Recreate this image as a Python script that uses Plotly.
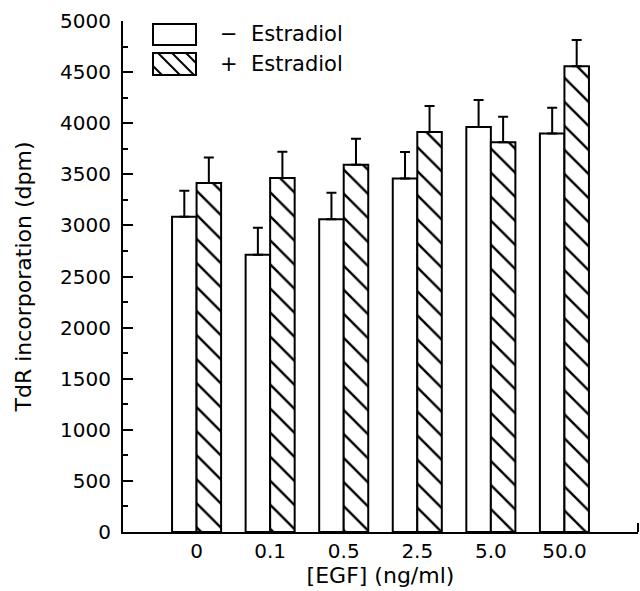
import plotly.graph_objects as go

categories = ["0", "0.1", "0.5", "2.5", "5.0", "50.0"]
minus_estradiol = [3085, 2713, 3060, 3460, 3963, 3898]
minus_err = [255, 265, 260, 258, 264, 254]
plus_estradiol = [3415, 3464, 3594, 3914, 3813, 4557]
plus_err = [250, 257, 255, 254, 251, 257]
y_ticks = [0, 500, 1000, 1500, 2000, 2500, 3000, 3500, 4000, 4500, 5000]

FONT = "DejaVu Sans"

fig = go.Figure()
fig.add_trace(go.Bar(
    x=categories, y=minus_estradiol, name="- Estradiol",
    marker=dict(color="white", line=dict(color="black", width=2)),
    error_y=dict(type="data", symmetric=False, array=minus_err,
                 arrayminus=[0] * len(minus_err), color="black",
                 thickness=2, width=5),
))
fig.add_trace(go.Bar(
    x=categories, y=plus_estradiol, name="+ Estradiol",
    marker=dict(color="white", line=dict(color="black", width=2),
                pattern=dict(shape="\\", fgcolor="black", bgcolor="white",
                             fgopacity=1, fillmode="replace",
                             size=17, solidity=0.14)),
    error_y=dict(type="data", symmetric=False, array=plus_err,
                 arrayminus=[0] * len(plus_err), color="black",
                 thickness=2, width=5),
))

W, H = 640, 591
L, R, T, B = 123, 2, 21, 59
pw, ph = W - L - R, H - T - B


def px(x):
    return (x - L) / pw


def py(y):
    return (H - B - y) / ph


shapes = []
shapes.append(dict(type="rect", xref="paper", yref="paper",
                   x0=px(153), x1=px(196), y0=py(45), y1=py(24),
                   line=dict(color="black", width=2), fillcolor="white"))
shapes.append(dict(type="rect", xref="paper", yref="paper",
                   x0=px(153), x1=px(196), y0=py(75), y1=py(53),
                   line=dict(color="black", width=2), fillcolor="white"))
bx0, bx1, by0, by1 = 153, 196, 53, 75
for start in [140, 158, 172, 186]:
    xa, ya, xb, yb = start, by0, start + 22, by1
    if xa < bx0:
        ya = ya + (bx0 - xa)
        xa = bx0
    if xb > bx1:
        yb = yb - (xb - bx1)
        xb = bx1
    if xb > xa:
        shapes.append(dict(type="line", xref="paper", yref="paper",
                           x0=px(xa), y0=py(ya), x1=px(xb), y1=py(yb),
                           line=dict(color="black", width=2)))
shapes.append(dict(type="line", xref="paper", yref="paper",
                   x0=1, x1=1, y0=0, y1=9 / ph,
                   line=dict(color="black", width=2)))

annotations = [
    dict(xref="paper", yref="paper", x=px(218), y=py(34), xanchor="left",
         yanchor="middle", text="\u2212  Estradiol", showarrow=False,
         font=dict(family=FONT, size=21, color="black")),
    dict(xref="paper", yref="paper", x=px(218), y=py(64), xanchor="left",
         yanchor="middle", text="+  Estradiol", showarrow=False,
         font=dict(family=FONT, size=21, color="black")),
]

fig.update_layout(
    width=W, height=H,
    margin=dict(l=L, r=R, t=T, b=B),
    paper_bgcolor="white", plot_bgcolor="white",
    barmode="group", bargap=1 / 3, bargroupgap=0,
    showlegend=False,
    font=dict(family=FONT, size=20, color="black"),
    shapes=shapes, annotations=annotations,
    xaxis=dict(type="category", range=[-1, 6], showline=True,
               linecolor="black", linewidth=2, ticks="", showgrid=False,
               zeroline=False, automargin=False,
               title=dict(text="[EGF] (ng/ml)", standoff=6,
                          font=dict(family=FONT, size=22)),
               tickfont=dict(family=FONT, size=20)),
    yaxis=dict(range=[0, 5000], tickvals=y_ticks, showline=True,
               linecolor="black", linewidth=2, ticks="inside", ticklen=10,
               tickwidth=2, tickcolor="black", showgrid=False, zeroline=False,
               automargin=False,
               minor=dict(dtick=250, ticks="inside", ticklen=5, tickwidth=2,
                          tickcolor="black"),
               ticklabelstandoff=6,
               title=dict(text="TdR incorporation (dpm)", standoff=22,
                          font=dict(family=FONT, size=22)),
               tickfont=dict(family=FONT, size=20)),
)

fig.write_html("out.html",
               config={"displayModeBar": False},
               post_script="document.body.style.margin='0';"
                           "document.body.style.padding='0';")
